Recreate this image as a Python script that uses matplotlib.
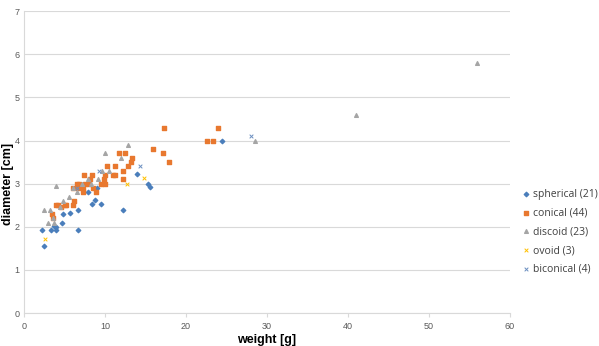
import matplotlib.pyplot as plt

# weight [g], diameter [cm] per shape class
spherical_w = [2.2, 2.5, 3.3, 3.7, 4.0, 4.0, 4.7, 4.8, 5.7, 6.7, 6.7, 7.9, 8.4, 8.8, 9.5, 12.2, 13.9, 15.3, 15.6, 24.5, 9.0]
spherical_d = [1.93, 1.55, 1.93, 2.02, 1.93, 2.0, 2.1, 2.3, 2.32, 1.93, 2.4, 2.8, 2.53, 2.62, 2.53, 2.4, 3.22, 3.0, 2.92, 4.0, 2.9]

conical_w = [3.5, 3.6, 4.0, 4.2, 4.6, 5.1, 5.2, 6.0, 6.2, 6.0, 6.5, 6.7, 6.8, 7.3, 7.3, 7.4, 7.6, 8.0,
             8.1, 8.4, 8.5, 8.9, 9.5, 9.9, 10.0, 10.0, 10.2, 11.0, 11.2, 11.3, 11.8, 12.2, 12.2, 12.5,
             12.8, 13.2, 13.4, 15.9, 17.2, 17.3, 17.9, 22.6, 23.3, 24.0]
conical_d = [2.3, 2.2, 2.5, 2.5, 2.45, 2.5, 2.5, 2.5, 2.6, 2.9, 3.0, 2.9, 3.0, 2.9, 2.8, 3.2, 3.0, 3.0,
             3.1, 3.2, 2.9, 2.8, 3.0, 3.1, 3.0, 3.2, 3.4, 3.2, 3.4, 3.2, 3.7, 3.3, 3.1, 3.7,
             3.4, 3.5, 3.6, 3.8, 3.7, 4.3, 3.5, 4.0, 4.0, 4.3]

discoid_w = [2.5, 3.0, 3.2, 3.6, 3.7, 3.9, 4.4, 4.8, 5.6, 6.0, 6.5, 7.2, 7.9, 8.3, 9.2, 9.7, 10.0,
             10.5, 12.0, 12.8, 28.5, 41.0, 56.0]
discoid_d = [2.4, 2.1, 2.4, 2.2, 2.1, 2.95, 2.45, 2.6, 2.7, 2.9, 2.8, 3.0, 3.1, 3.0, 3.1, 3.3, 3.7,
             3.3, 3.6, 3.9, 4.0, 4.6, 5.8]

ovoid_w = [2.6, 12.7, 14.8]
ovoid_d = [1.72, 3.0, 3.13]

biconical_w = [6.5, 9.3, 14.3, 28.1]
biconical_d = [2.9, 3.3, 3.4, 4.1]

plt.rcParams['font.family'] = ['Liberation Sans', 'DejaVu Sans']

fig = plt.figure(figsize=(5.99, 3.46), dpi=100)
ax = fig.add_axes([0.04, 0.095, 0.811, 0.873])

ax.scatter(spherical_w, spherical_d, marker='D', s=5, color='#4a7ebb', label='spherical (21)', zorder=3)
ax.scatter(conical_w, conical_d, marker='s', s=10, color='#e8782f', label='conical (44)', zorder=3)
ax.scatter(discoid_w, discoid_d, marker='^', s=7, color='#a5a5a5', label='discoid (23)', zorder=3)
ax.scatter(ovoid_w, ovoid_d, marker='x', s=7, color='#ffc000', linewidths=0.7, label='ovoid (3)', zorder=3)
ax.scatter(biconical_w, biconical_d, marker='x', s=7, color='#6b8fc0', linewidths=0.7, label='biconical (4)', zorder=3)

ax.set_xlim(0, 60)
ax.set_ylim(0, 7)
ax.set_xticks(range(0, 61, 10))
ax.set_yticks(range(0, 8))
ax.grid(axis='y', color='#d9d9d9', linewidth=0.8)
ax.set_axisbelow(True)
for side in ['top', 'right']:
    ax.spines[side].set_visible(False)
for side in ['left', 'bottom']:
    ax.spines[side].set_color('#d9d9d9')
ax.tick_params(labelsize=6.5, colors='#595959', length=3, color='#d9d9d9')
ax.tick_params(axis='y', length=0, pad=3)

ax.set_xlabel('weight [g]', fontsize=9, fontweight='bold', labelpad=2)
ax.set_ylabel('diameter [cm]', fontsize=9, fontweight='bold')
ax.yaxis.set_label_coords(-0.021, 0.427)

ax.legend(loc='upper left', bbox_to_anchor=(0.868, 0.455), bbox_transform=fig.transFigure,
          frameon=False, labelcolor='#404040', handletextpad=0.1, handlelength=1.2,
          borderaxespad=0, borderpad=0, labelspacing=0.75,
          prop={'family': ['Open Sans', 'DejaVu Sans'], 'size': 7.5})

fig.savefig('out.png', dpi=100)
